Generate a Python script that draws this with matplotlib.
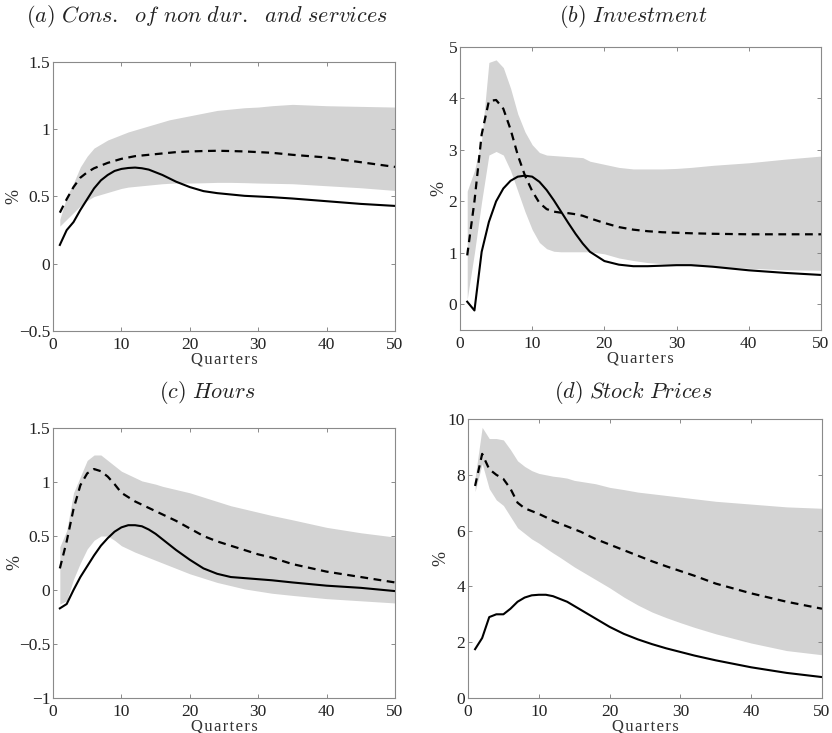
import matplotlib
matplotlib.use('Agg')
import matplotlib.pyplot as plt
import numpy as np

plt.rcParams['mathtext.fontset'] = 'cm'
plt.rcParams['font.family'] = 'Liberation Serif'

q = [1, 2, 3, 4, 5, 6, 7, 8, 9, 10, 11, 12, 13, 14, 15, 16, 17, 18, 20, 22, 24, 26, 28, 30, 32, 35, 40, 45, 50]

# (a) consumption of non durables and services
cons_model = [0.14, 0.25, 0.31, 0.40, 0.48, 0.56, 0.62, 0.66, 0.69, 0.705, 0.712, 0.715, 0.71, 0.70, 0.68, 0.66, 0.635, 0.61, 0.57, 0.54, 0.525, 0.515, 0.505, 0.50, 0.495, 0.485, 0.465, 0.445, 0.43]
cons_var = [0.38, 0.48, 0.57, 0.64, 0.68, 0.71, 0.73, 0.75, 0.765, 0.78, 0.79, 0.80, 0.805, 0.81, 0.815, 0.82, 0.825, 0.83, 0.835, 0.838, 0.84, 0.838, 0.835, 0.83, 0.825, 0.81, 0.79, 0.755, 0.72]
cons_hi = [0.33, 0.50, 0.60, 0.72, 0.80, 0.86, 0.89, 0.92, 0.94, 0.96, 0.98, 0.995, 1.01, 1.025, 1.04, 1.055, 1.07, 1.08, 1.10, 1.12, 1.14, 1.15, 1.16, 1.165, 1.175, 1.185, 1.175, 1.17, 1.165]
cons_lo = [0.28, 0.33, 0.38, 0.43, 0.47, 0.50, 0.515, 0.53, 0.545, 0.56, 0.57, 0.575, 0.58, 0.585, 0.59, 0.595, 0.598, 0.60, 0.60, 0.602, 0.605, 0.605, 0.603, 0.60, 0.598, 0.595, 0.58, 0.565, 0.545]

# (b) investment
inv_model = [0.05, -0.12, 1.02, 1.6, 2.0, 2.25, 2.4, 2.48, 2.5, 2.48, 2.38, 2.22, 2.02, 1.8, 1.58, 1.37, 1.18, 1.02, 0.84, 0.77, 0.74, 0.74, 0.75, 0.76, 0.76, 0.73, 0.66, 0.61, 0.57]
inv_var = [0.95, 2.0, 3.3, 3.95, 3.97, 3.8, 3.4, 2.9, 2.5, 2.2, 1.97, 1.85, 1.8, 1.78, 1.77, 1.75, 1.72, 1.67, 1.58, 1.5, 1.45, 1.42, 1.4, 1.39, 1.38, 1.37, 1.36, 1.36, 1.36]
inv_hi = [2.2, 2.6, 3.2, 4.7, 4.75, 4.6, 4.2, 3.7, 3.35, 3.1, 2.95, 2.9, 2.89, 2.88, 2.87, 2.86, 2.85, 2.78, 2.72, 2.66, 2.63, 2.63, 2.63, 2.64, 2.66, 2.7, 2.75, 2.82, 2.88]
inv_lo = [0.1, 1.0, 2.0, 2.9, 2.97, 2.9, 2.6, 2.2, 1.8, 1.45, 1.2, 1.08, 1.03, 1.02, 1.02, 1.02, 1.02, 1.02, 0.98, 0.9, 0.85, 0.81, 0.79, 0.77, 0.75, 0.73, 0.7, 0.67, 0.66]

# (c) hours
hours_model = [-0.17, -0.13, 0.0, 0.12, 0.22, 0.32, 0.41, 0.48, 0.54, 0.58, 0.60, 0.60, 0.59, 0.56, 0.52, 0.47, 0.42, 0.37, 0.28, 0.20, 0.15, 0.12, 0.11, 0.10, 0.09, 0.07, 0.04, 0.02, -0.01]
hours_var = [0.2, 0.45, 0.75, 0.97, 1.08, 1.12, 1.10, 1.05, 0.98, 0.90, 0.86, 0.82, 0.79, 0.76, 0.73, 0.70, 0.67, 0.64, 0.57, 0.50, 0.45, 0.41, 0.37, 0.33, 0.30, 0.24, 0.17, 0.12, 0.07]
hours_hi = [0.4, 0.55, 0.9, 1.05, 1.2, 1.25, 1.25, 1.2, 1.15, 1.10, 1.07, 1.04, 1.01, 0.995, 0.98, 0.96, 0.945, 0.93, 0.90, 0.86, 0.82, 0.78, 0.75, 0.72, 0.69, 0.65, 0.58, 0.53, 0.49]
hours_lo = [-0.13, -0.10, 0.10, 0.25, 0.38, 0.46, 0.50, 0.50, 0.46, 0.41, 0.38, 0.35, 0.325, 0.30, 0.275, 0.25, 0.225, 0.20, 0.15, 0.11, 0.07, 0.04, 0.01, -0.01, -0.03, -0.05, -0.08, -0.10, -0.12]

# (d) stock prices
stock_model = [1.75, 2.15, 2.9, 3.0, 3.0, 3.2, 3.45, 3.6, 3.68, 3.7, 3.7, 3.65, 3.55, 3.45, 3.3, 3.15, 3.0, 2.85, 2.55, 2.3, 2.1, 1.93, 1.78, 1.65, 1.52, 1.35, 1.1, 0.9, 0.75]
stock_var = [7.6, 8.75, 8.2, 8.0, 7.85, 7.5, 7.0, 6.8, 6.7, 6.6, 6.48, 6.35, 6.25, 6.15, 6.05, 5.95, 5.82, 5.7, 5.5, 5.3, 5.1, 4.9, 4.72, 4.55, 4.38, 4.1, 3.75, 3.45, 3.2]
stock_hi = [7.9, 9.7, 9.3, 9.3, 9.25, 8.9, 8.5, 8.3, 8.15, 8.05, 8.0, 7.95, 7.92, 7.88, 7.8, 7.76, 7.72, 7.68, 7.55, 7.47, 7.38, 7.32, 7.26, 7.2, 7.14, 7.05, 6.95, 6.85, 6.8]
stock_lo = [7.4, 8.4, 7.5, 7.1, 6.9, 6.5, 6.1, 5.9, 5.7, 5.55, 5.37, 5.2, 5.04, 4.87, 4.7, 4.55, 4.4, 4.25, 3.95, 3.62, 3.33, 3.08, 2.88, 2.7, 2.53, 2.3, 1.97, 1.7, 1.55]

titles = [r'$\mathit{(a)\ Cons.\ \ of\ non\ dur.\ \ and\ services}$',
          r'$\mathit{(b)\ Investment}$',
          r'$\mathit{(c)\ Hours}$',
          r'$\mathit{(d)\ Stock\ Prices}$']

panels = [
    (cons_model, cons_var, cons_hi, cons_lo, (-0.5, 1.5), [-0.5, 0, 0.5, 1, 1.5], ['\u22120.5', '0', '0.5', '1', '1.5']),
    (inv_model, inv_var, inv_hi, inv_lo, (-0.5, 5), [0, 1, 2, 3, 4, 5], ['0', '1', '2', '3', '4', '5']),
    (hours_model, hours_var, hours_hi, hours_lo, (-1, 1.5), [-1, -0.5, 0, 0.5, 1, 1.5], ['\u22121', '\u22120.5', '0', '0.5', '1', '1.5']),
    (stock_model, stock_var, stock_hi, stock_lo, (0, 10), [0, 2, 4, 6, 8, 10], ['0', '2', '4', '6', '8', '10']),
]

W, H = 832, 733
# axes boxes in pixels: left, top, right, bottom
boxes = [(53, 62, 395, 331), (460, 47, 821, 330), (53, 428, 395, 698), (468, 419, 822, 698)]
title_pos = [(207, 17), (633, 17), (207, 392), (633, 392)]
ylabel_x = [22, 447, 23, 449]

fig = plt.figure(figsize=(W / 100, H / 100), dpi=100)

for i, (model, var, hi, lo, ylim, yt, ytl) in enumerate(panels):
    l, t, r, b = boxes[i]
    ax = fig.add_axes([l / W, 1 - b / H, (r - l) / W, (b - t) / H])
    ax.fill_between(q, lo, hi, color='#d3d3d3', linewidth=0)
    ax.plot(q, var, color='black', linestyle=(0, (3.5, 2.5)), linewidth=1.6)
    ax.plot(q, model, color='black', linewidth=1.5)
    ax.set_xlim(0, 50)
    ax.set_ylim(*ylim)
    ax.set_xticks([0, 10, 20, 30, 40, 50])
    ax.set_yticks(yt)
    ax.set_yticklabels(ytl)
    ax.tick_params(direction='in', top=True, right=True, length=3, width=0.6,
                   color='#777777', labelsize=12.5, labelcolor='#222222')
    ax.tick_params(axis='x', pad=4)
    ax.tick_params(axis='y', pad=2)
    for s in ax.spines.values():
        s.set_color('#8a8a8a')
        s.set_linewidth(0.8)
    ax.set_xlabel('Q\u200au\u200aa\u200ar\u200at\u200ae\u200ar\u200as', fontsize=12, labelpad=-1, color='#333333')
    ax.set_ylabel('%', fontsize=13, color='#333333')
    ax.yaxis.set_label_coords((ylabel_x[i] - l) / (r - l), 0.5)
    tx, ty = title_pos[i]
    fig.text(tx / W, 1 - ty / H, titles[i], ha='center', va='center', fontsize=16, color='#222222')

fig.savefig('out.png', dpi=100)
